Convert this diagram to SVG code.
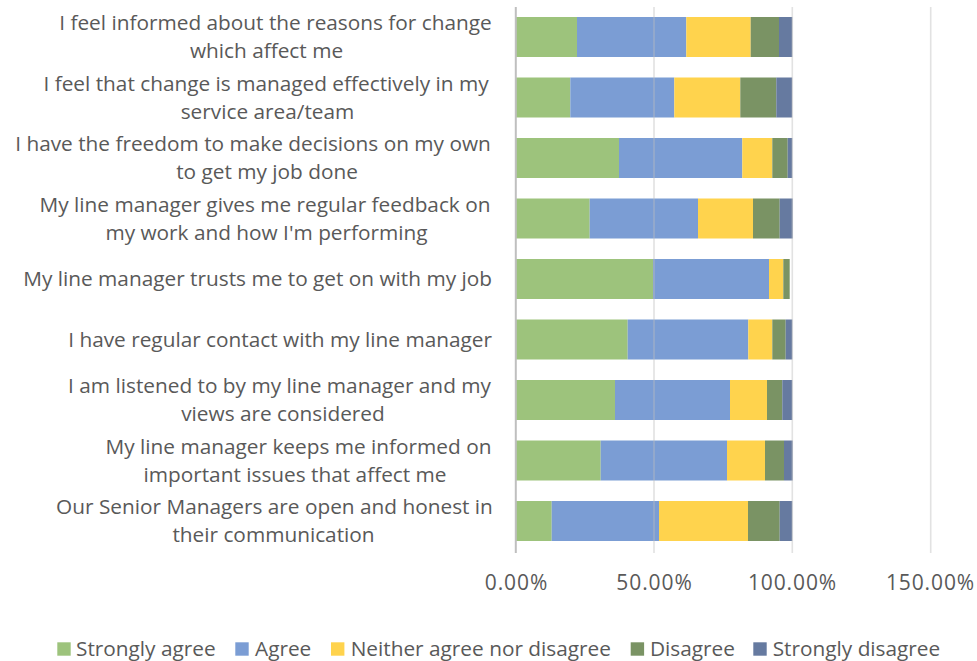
<svg xmlns="http://www.w3.org/2000/svg" width="977" height="661" viewBox="0 0 977 661">
<style>
text{font-family:"Open Sans",Lato,"Liberation Sans",sans-serif;font-size:20.8px;fill:#595959}
.lab{text-anchor:middle}
.lr{text-anchor:end}
.ax{text-anchor:middle;font-size:21px;letter-spacing:0.9px}
.sa{fill:#9dc37c}.ag{fill:#7b9dd4}.ne{fill:#ffd34d}.di{fill:#7a9364}.sd{fill:#667aa0}
.grid{stroke:#bfbfbf;stroke-width:1.6;opacity:0.45}
</style>
<rect width="977" height="661" fill="#fff"/>
<g id="bars">
<g id="row1"><rect class="sa" x="516" y="17" width="61" height="40"/><rect class="ag" x="577" y="17" width="109.3" height="40"/><rect class="ne" x="686.3" y="17" width="64.4" height="40"/><rect class="di" x="750.7" y="17" width="28.3" height="40"/><rect class="sd" x="779" y="17" width="13.3" height="40"/></g>
<g id="row2"><rect class="sa" x="516" y="77.5" width="54.3" height="40"/><rect class="ag" x="570.3" y="77.5" width="104" height="40"/><rect class="ne" x="674.3" y="77.5" width="66" height="40"/><rect class="di" x="740.3" y="77.5" width="36" height="40"/><rect class="sd" x="776.3" y="77.5" width="15.9" height="40"/></g>
<g id="row3"><rect class="sa" x="516" y="138" width="103" height="40"/><rect class="ag" x="619" y="138" width="123.3" height="40"/><rect class="ne" x="742.3" y="138" width="30" height="40"/><rect class="di" x="772.3" y="138" width="15.4" height="40"/><rect class="sd" x="787.7" y="138" width="4.6" height="40"/></g>
<g id="row4"><rect class="sa" x="516" y="198.5" width="73.7" height="40"/><rect class="ag" x="589.7" y="198.5" width="108.3" height="40"/><rect class="ne" x="698" y="198.5" width="55" height="40"/><rect class="di" x="753" y="198.5" width="26.7" height="40"/><rect class="sd" x="779.7" y="198.5" width="13" height="40"/></g>
<g id="row5"><rect class="sa" x="516" y="259" width="137" height="40"/><rect class="ag" x="653" y="259" width="116" height="40"/><rect class="ne" x="769" y="259" width="14.3" height="40"/><rect class="di" x="783.3" y="259" width="6.4" height="40"/></g>
<g id="row6"><rect class="sa" x="516" y="319.5" width="111.7" height="40"/><rect class="ag" x="627.7" y="319.5" width="120.6" height="40"/><rect class="ne" x="748.3" y="319.5" width="24" height="40"/><rect class="di" x="772.3" y="319.5" width="13.4" height="40"/><rect class="sd" x="785.7" y="319.5" width="6.6" height="40"/></g>
<g id="row7"><rect class="sa" x="516" y="380" width="99" height="40"/><rect class="ag" x="615" y="380" width="115" height="40"/><rect class="ne" x="730" y="380" width="37" height="40"/><rect class="di" x="767" y="380" width="15.3" height="40"/><rect class="sd" x="782.3" y="380" width="10" height="40"/></g>
<g id="row8"><rect class="sa" x="516" y="440.5" width="84.7" height="40"/><rect class="ag" x="600.7" y="440.5" width="126.3" height="40"/><rect class="ne" x="727" y="440.5" width="38" height="40"/><rect class="di" x="765" y="440.5" width="19" height="40"/><rect class="sd" x="784" y="440.5" width="8.7" height="40"/></g>
<g id="row9"><rect class="sa" x="516" y="501" width="35.7" height="40"/><rect class="ag" x="551.7" y="501" width="107.3" height="40"/><rect class="ne" x="659" y="501" width="89" height="40"/><rect class="di" x="748" y="501" width="31.7" height="40"/><rect class="sd" x="779.7" y="501" width="12.6" height="40"/></g>
</g>
<g id="gridlines">
<line class="grid" x1="654" y1="7" x2="654" y2="553"/>
<line class="grid" x1="792.3" y1="7" x2="792.3" y2="553"/>
<line class="grid" x1="930.7" y1="7" x2="930.7" y2="553"/>
<line x1="515.8" y1="7" x2="515.8" y2="553" stroke="#bfbfbf" stroke-width="2"/>
</g>
<g id="labels">
<g id="label1"><text class="lab" x="275.5" y="30">I feel informed about the reasons for change</text><text class="lab" x="266.5" y="58">which affect me</text></g>
<g id="label2"><text class="lab" x="266" y="90.5">I feel that change is managed effectively in my</text><text class="lab" x="267.5" y="118.5">service area/team</text></g>
<g id="label3"><text class="lab" x="253" y="151">I have the freedom to make decisions on my own</text><text class="lab" x="267" y="179">to get my job done</text></g>
<g id="label4"><text class="lab" x="265" y="211.5">My line manager gives me regular feedback on</text><text class="lab" x="266.5" y="239.5">my work and how I'm performing</text></g>
<g id="label5"><text class="lr" x="492" y="286">My line manager trusts me to get on with my job</text></g>
<g id="label6"><text class="lr" x="492" y="346.5">I have regular contact with my line manager</text></g>
<g id="label7"><text class="lab" x="279.5" y="393">I am listened to by my line manager and my</text><text class="lab" x="283" y="421">views are considered</text></g>
<g id="label8"><text class="lab" x="298.5" y="453.5">My line manager keeps me informed on</text><text class="lab" x="295" y="481.5">important issues that affect me</text></g>
<g id="label9"><text class="lab" x="274.5" y="514">Our Senior Managers are open and honest in</text><text class="lab" x="273.5" y="542">their communication</text></g>
</g>
<g id="axis">
<text class="ax" x="516.5" y="590">0.00%</text>
<text class="ax" x="654.5" y="590">50.00%</text>
<text class="ax" x="792.5" y="590">100.00%</text>
<text class="ax" x="930.5" y="590">150.00%</text>
</g>
<g id="legend">
<rect class="sa" x="57.3" y="642.3" width="13.4" height="13.4"/><text x="76" y="655.5">Strongly agree</text>
<rect class="ag" x="235.3" y="642.3" width="13.4" height="13.4"/><text x="255" y="655.5">Agree</text>
<rect class="ne" x="331" y="642.3" width="13.4" height="13.4"/><text x="350.7" y="655.5">Neither agree nor disagree</text>
<rect class="di" x="630.7" y="642.3" width="13.4" height="13.4"/><text x="650" y="655.5">Disagree</text>
<rect class="sd" x="753.3" y="642.3" width="13.4" height="13.4"/><text x="772.7" y="655.5">Strongly disagree</text>
</g>
</svg>
